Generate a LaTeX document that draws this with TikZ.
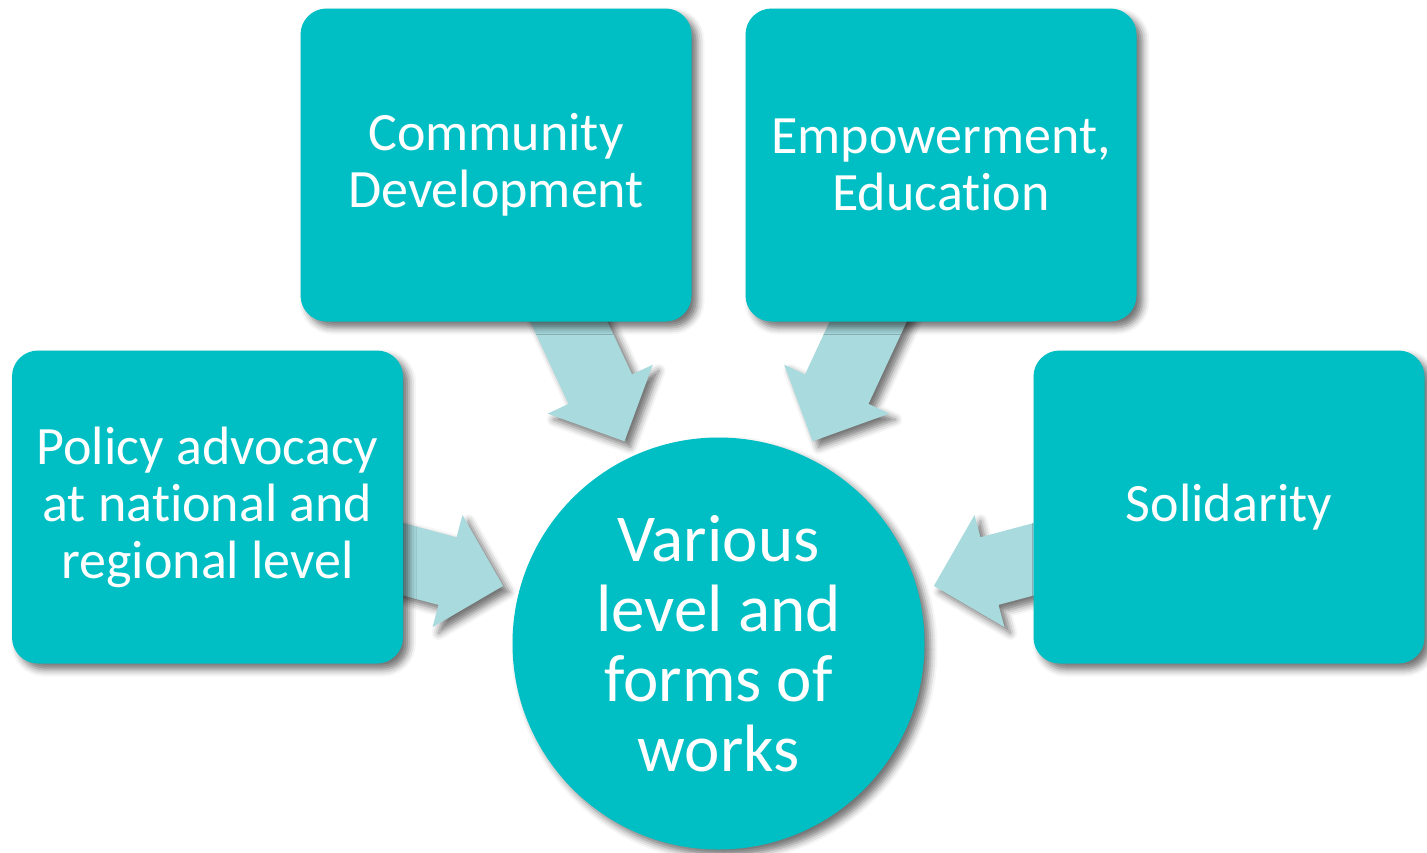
\documentclass[tikz,border=0pt]{standalone}
\usepackage{fontspec}
\setmainfont{Carlito}[Ligatures=NoCommon]
\usetikzlibrary{calc,shadows.blur}
\definecolor{teal}{RGB}{0,191,196}
\definecolor{arrowblue}{RGB}{168,218,222}
\tikzset{
  softshadow/.style={blur shadow={shadow xshift=6pt, shadow yshift=-6pt, shadow blur radius=7pt, shadow opacity=55}},
  topicbox/.style={fill=teal, rounded corners=26pt, minimum width=391pt, minimum height=313pt,
    text=white, align=center, inner sep=0pt, font=\fontsize{54}{57}\selectfont, softshadow},
  hubcircle/.style={circle, fill=teal, minimum size=412pt, inner sep=0pt,
    text=white, align=center, font=\fontsize{67}{70}\selectfont, softshadow},
  blockarrow/.style={fill=arrowblue, softshadow}
}
% #1 = source node, #2 = target node; tip lies 223pt from the target centre
\newcommand\blockarr[2]{%
  \path let \p1=(#1.center), \p2=(#2.center) in
    \pgfextra{\pgfmathsetmacro\arrang{atan2(\y1-\y2,\x1-\x2)}%
              \pgfmathsetmacro\arrlen{veclen(\x1-\x2,\y1-\y2)}%
              \xdef\arrang{\arrang}%
              \pgfmathsetmacro\arrtail{\arrlen-223}%
              \xdef\arrtail{\arrtail}};
  \begin{scope}[shift={($(#2.center)+(\arrang:223pt)$)}, rotate=\arrang]
    \fill[blockarrow] (0pt,0pt) -- (57.5pt,58pt) -- (57.5pt,35pt) -- (\arrtail pt,35pt)
      -- (\arrtail pt,-35pt) -- (57.5pt,-35pt) -- (57.5pt,-58pt) -- cycle;
  \end{scope}
}
\begin{document}
\begin{tikzpicture}[x=1pt,y=-1pt]
\useasboundingbox (0,0) rectangle (1427,852);
\coordinate (cdc) at (496,165);
\coordinate (eec) at (941,165);
\coordinate (pac) at (207.5,507);
\coordinate (soc) at (1229,507);
\coordinate (hubc) at (718.5,643.5);
% arrows (drawn first, boxes cover their tails)
\blockarr{cdc}{hubc}
\blockarr{eec}{hubc}
\blockarr{pac}{hubc}
\blockarr{soc}{hubc}
% boxes
\node[topicbox] (cd) at (cdc) {Community\\Development};
\node[topicbox] (ee) at (eec) {Empowerment,\\Education};
\node[topicbox] (pa) at (pac) {Policy advocacy\\at national and\\regional level};
\node[topicbox] (so) at (soc) {Solidarity};
% hub
\node[hubcircle] (hub) at (hubc) {Various\\level and\\forms of\\works};
\end{tikzpicture}
\end{document}
